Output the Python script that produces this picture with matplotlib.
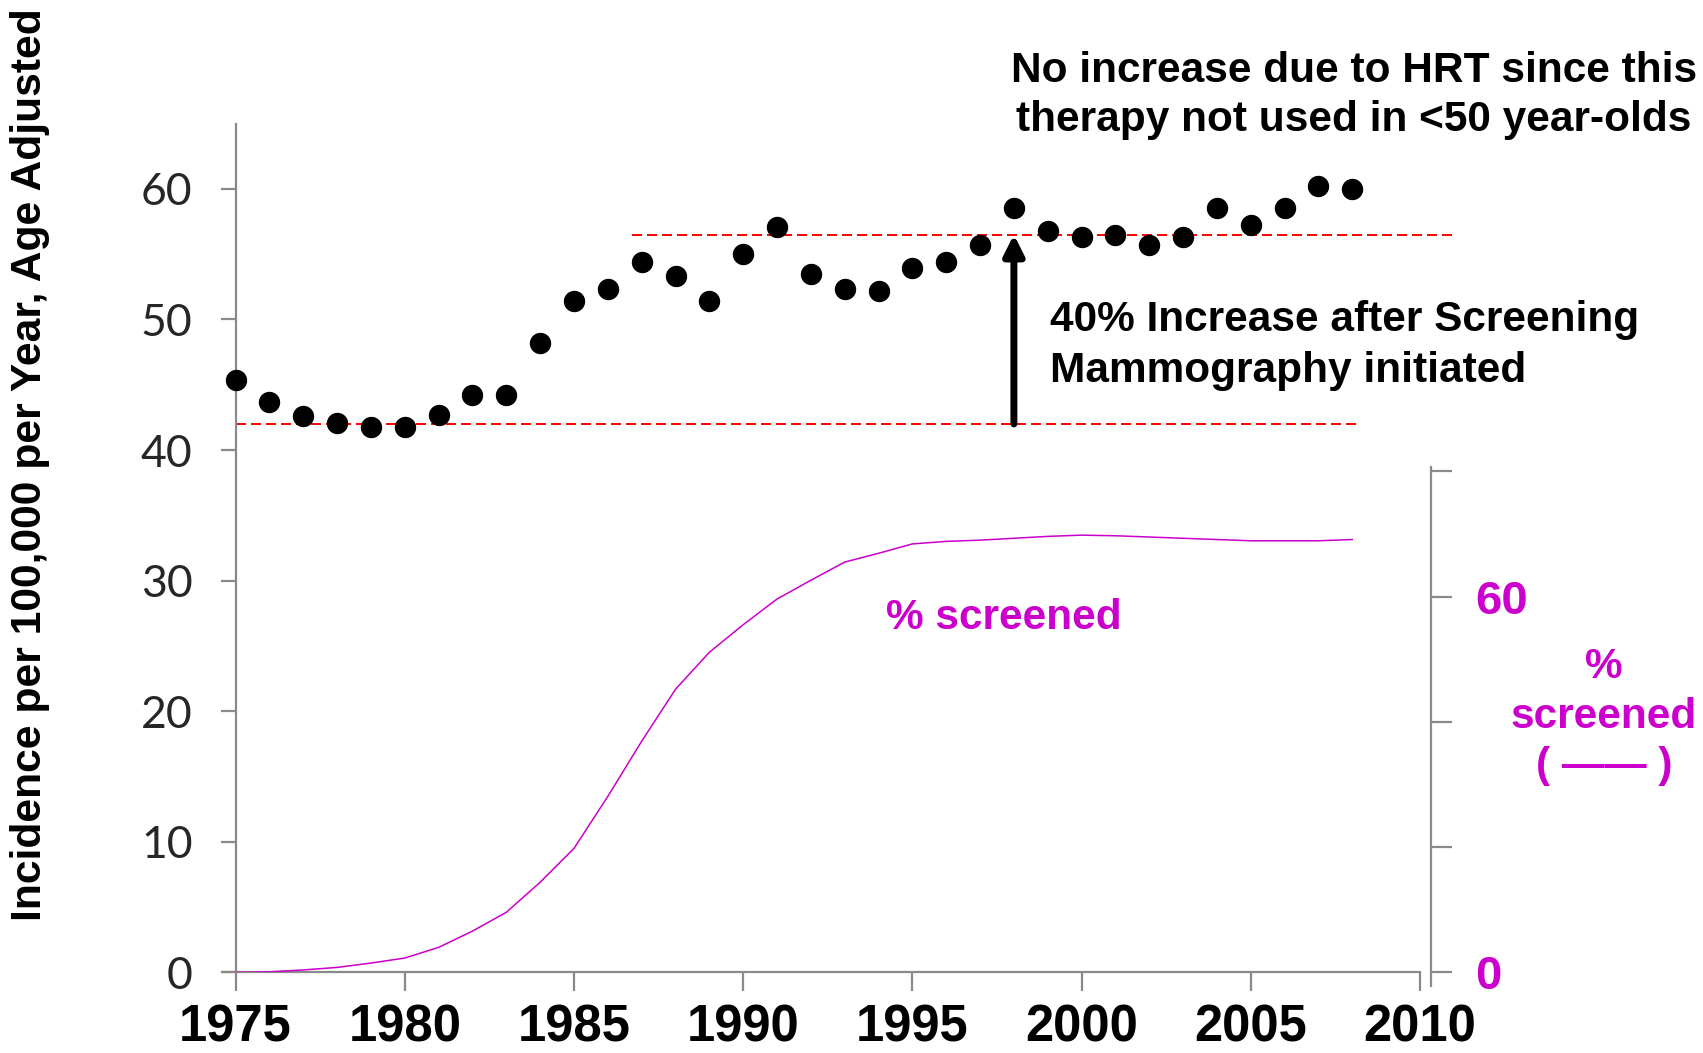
import matplotlib
matplotlib.use("Agg")
import matplotlib.pyplot as plt

plt.rcParams['font.family'] = ['Liberation Sans', 'DejaVu Sans']
plt.rcParams['lines.scale_dashes'] = False

# incidence per 100,000 (dots) and % screened (magenta curve)
years = list(range(1975, 2009))
incidence = [45.4, 43.7, 42.6, 42.1, 41.8, 41.8, 42.7, 44.2, 44.2, 48.2,
             51.4, 52.3, 54.4, 53.3, 51.4, 55.0, 57.1, 53.5, 52.3, 52.2,
             53.9, 54.4, 55.7, 58.5, 56.8, 56.3, 56.5, 55.7, 56.3, 58.5,
             57.2, 58.5, 60.2, 60.0]
pct_screened = [0, 0.1, 0.4, 0.8, 1.5, 2.3, 4.0, 6.6, 9.6, 14.4,
                19.8, 28.1, 36.9, 45.2, 51.1, 55.5, 59.6, 62.6, 65.5, 66.9,
                68.4, 68.8, 69.0, 69.3, 69.6, 69.8, 69.7, 69.5, 69.3, 69.1,
                68.9, 68.9, 68.9, 69.1]

x_ticks = [1975, 1980, 1985, 1990, 1995, 2000, 2005, 2010]
y_ticks = [0, 10, 20, 30, 40, 50, 60]
right_ticks = [0, 20, 40, 60, 80]
right_labels = ['0', '', '', '60', '']

base_level, base_span = 42.0, (1975, 2008.1)
top_level, top_span = 56.5, (1986.7, 2011.0)
arrow_year = 1998

magenta = '#CC00CC'
grey = '#8a8a8a'

fig = plt.figure(figsize=(17.03, 10.53), dpi=100)
ax = fig.add_axes([0.1304, 0.0765, 0.7034, 0.8062])

ax.set_xlim(1974.6, 2010)
ax.set_ylim(0, 65)
ax.spines['left'].set_position(('data', 1975))
for s in ['top', 'right']:
    ax.spines[s].set_visible(False)
for s in ['left', 'bottom']:
    ax.spines[s].set_color(grey)
    ax.spines[s].set_linewidth(1.6)

ax.set_xticks(x_ticks)
ax.set_xticklabels([str(t) for t in x_ticks], fontweight='bold')
ax.tick_params(axis='x', direction='out', length=14, width=1.6, color=grey,
               pad=8.5, labelsize=36.5, labelcolor='black')
ax.set_yticks(y_ticks)
ax.set_yticklabels([str(t) for t in y_ticks])
ax.tick_params(axis='y', direction='out', length=11, width=1.6, color=grey,
               pad=20, labelsize=32, labelcolor='#262626')
for lbl in ax.get_yticklabels():
    lbl.set_fontfamily('Lato')

# reference lines + arrow
ax.plot(base_span, [base_level, base_level], color='red', lw=1.4,
        dashes=(7.2, 3.6), clip_on=False, zorder=2)
ax.plot(top_span, [top_level, top_level], color='red', lw=1.4,
        dashes=(7.2, 3.6), clip_on=False, zorder=2)
ax.annotate('', xy=(arrow_year, top_level), xytext=(arrow_year, base_level),
            arrowprops=dict(arrowstyle='-|>,head_length=0.6,head_width=0.3',
                            color='black', lw=5, mutation_scale=20,
                            shrinkA=0, shrinkB=0), zorder=4)

ax.scatter(years, incidence, s=207, color='black', zorder=3, clip_on=False)

# right axis for % screened
ax2 = ax.twinx()
ax2.set_ylim(0, 135.5)
for s in ['top', 'left', 'bottom']:
    ax2.spines[s].set_visible(False)
ax2.spines['right'].set_position(('outward', 8))
ax2.spines['right'].set_bounds(-2.2, 80.7)
ax2.spines['right'].set_color(grey)
ax2.spines['right'].set_linewidth(1.6)
ax2.set_yticks(right_ticks)
ax2.set_yticklabels(right_labels, fontweight='bold')
ax2.tick_params(axis='y', direction='out', length=15, width=1.6, color=grey,
                pad=17, labelsize=34, labelcolor=magenta)
ax2.plot(years, pct_screened, color=magenta, lw=1.1)

# text
fig.text(0.0176, 0.559, 'Incidence per 100,000 per Year, Age Adjusted',
         rotation=90, ha='center', va='center', fontsize=30.7, fontweight='bold')
fig.text(0.795, 0.909, 'No increase due to HRT since this\ntherapy not used in <50 year-olds',
         ha='center', va='center', multialignment='center', linespacing=1.28,
         fontsize=30.5, fontweight='bold')
fig.text(0.6166, 0.6721, '40% Increase after Screening\nMammography initiated',
         ha='left', va='center', linespacing=1.37, fontsize=30.5, fontweight='bold')
fig.text(0.5893, 0.4131, '% screened', ha='center', va='center',
         fontsize=30.5, fontweight='bold', color=magenta)
fig.text(0.9419, 0.3192, '%\nscreened\n( \u2014\u2014 )', ha='center', va='center',
         multialignment='center', linespacing=1.31, fontsize=30.5,
         fontweight='bold', color=magenta)

fig.savefig('out.png', dpi=100)
